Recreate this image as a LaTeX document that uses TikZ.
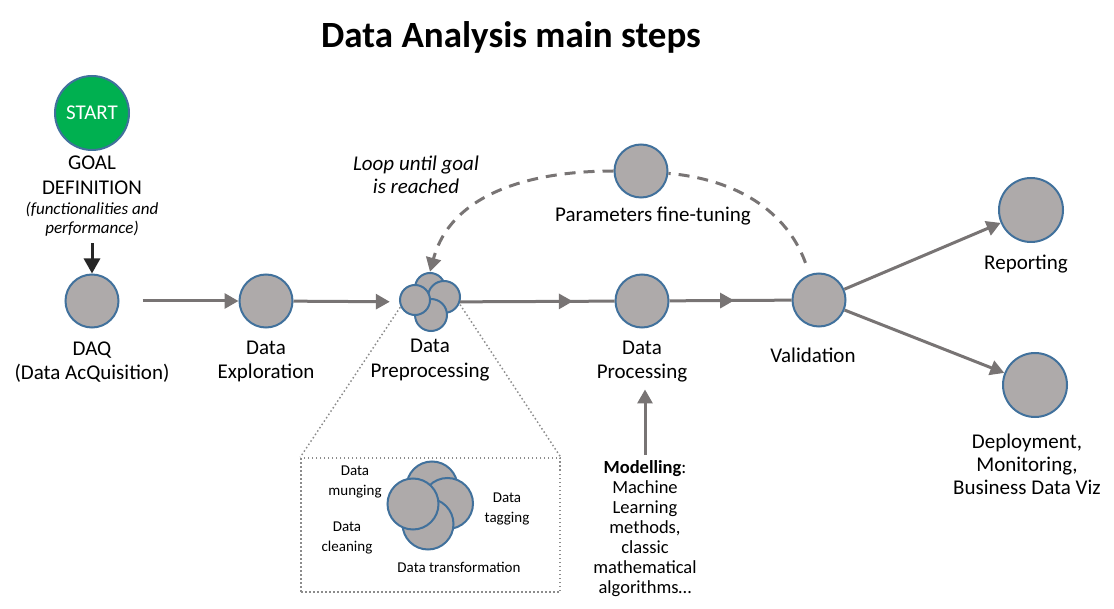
\documentclass[tikz,border=0pt]{standalone}
\usepackage{fontspec}
\setmainfont{Carlito}
\usetikzlibrary{positioning,arrows.meta,decorations.markings}

\definecolor{stepgray}{HTML}{AEAAAA}
\definecolor{stepblue}{HTML}{41719C}
\definecolor{flowgray}{HTML}{787474}
\definecolor{dotgray}{HTML}{8C8C8C}
\definecolor{startgreen}{HTML}{00B050}

\tikzset{
  stepnode/.style={circle,draw=stepblue,fill=stepgray,line width=2pt,inner sep=0pt,minimum size=#1},
  stepnode/.default=53pt,
  flow/.style={draw=flowgray,line width=3pt,-{Triangle[length=14pt,width=15pt]}},
  midflow/.style={draw=flowgray,line width=3pt,postaction={decorate},
    decoration={markings,mark=at position #1 with {\arrow{Triangle[length=14pt,width=15pt]}}}},
  loopline/.style={draw=flowgray,line width=3pt,dash pattern=on 11pt off 8pt},
  zoomline/.style={draw=dotgray,line width=1.5pt,dash pattern=on 1.5pt off 2.5pt},
  lbl/.style={align=center,inner sep=0pt,font=\fontsize{21}{24.5}\selectfont},
  note/.style={align=center,inner sep=0pt,font=\fontsize{17}{19}\selectfont\itshape},
  small/.style={align=center,inner sep=0pt,font=\fontsize{15}{20}\selectfont},
}

\begin{document}
\begin{tikzpicture}[x=1pt,y=1pt]
\useasboundingbox (0,0) rectangle (1114,-609);
\node[font=\fontsize{37}{44}\selectfont\bfseries] (title) at (511,-37) {Data Analysis main steps};

% goal definition
\node[stepnode=74pt,fill=startgreen,text=white,font=\fontsize{21}{24}\selectfont] (start) at (92,-113) {START};
\node[lbl,below=5pt of start] (goal) {GOAL\\DEFINITION};
\node[note,below=7pt of goal] (goalnote) {(functionalities and\\performance)};

% main steps
\node[stepnode] (daq) at (92,-301) {};
\node[stepnode] (expl) at (266,-301) {};
\node[circle,minimum size=60pt,inner sep=0pt] (pre) at (430,-302) {};
\node[stepnode=30pt] (pretop) at (430,-288) {};
\node[stepnode=32pt] (preright) at (444,-297) {};
\node[stepnode=32pt] (prebot) at (431,-315) {};
\node[stepnode=30pt] (preleft) at (415,-300) {};
\node[stepnode] (proc) at (642,-301) {};
\node[stepnode] (val) at (819,-300) {};
\node[stepnode] (param) at (641,-171) {};
\node[stepnode=64pt] (rep) at (1031,-210) {};
\node[stepnode=64pt] (dep) at (1035,-385) {};

\node[lbl,below=13pt of daq] (daqlbl) {DAQ\\(Data AcQuisition)};
\node[lbl,below=12pt of expl] (expllbl) {Data\\Exploration};
\node[lbl,below=7pt of pre] (prelbl) {Data\\Preprocessing};
\node[lbl,below=12pt of proc] (proclbl) {Data\\Processing};
\node[lbl,below=20pt of val,xshift=-6pt] (vallbl) {Validation};
\node[lbl,below=8pt of param,xshift=12pt] (paramlbl) {Parameters fine-tuning};
\node[lbl,below=12pt of rep,xshift=-5pt] (replbl) {Reporting};
\node[lbl,below=16pt of dep,xshift=-8pt,font=\fontsize{21}{23}\selectfont] (deplbl) {Deployment,\\Monitoring,\\Business Data Viz};
\node[lbl,font=\fontsize{21}{23}\selectfont\itshape] (looplbl) at (416,-175) {Loop until goal\\is reached};

\draw[line width=3pt,draw=black!85,-{Triangle[length=15pt,width=16pt]},shorten <=7pt] (goalnote) -- (daq);
\draw[flow,shorten <=23pt] (daq) -- (expl);
\draw[flow,shorten >=10pt] (expl) -- (pre);
\draw[midflow=0.73] (pre) -- (proc);
\draw[midflow=0.53] (proc) -- (val);
\draw[flow] (val) -- (rep);
\draw[flow] (val) -- (dep);

% loop back
\draw[loopline,shorten <=12pt] (val) to[out=110,in=-5] (param);
\draw[loopline,-{Triangle[length=14pt,width=15pt]}] (param) to[out=180,in=75] (pre.north);

% zoom on preprocessing
\node[draw=dotgray,line width=1.5pt,dash pattern=on 1.5pt off 2.5pt,minimum width=259pt,minimum height=134pt,inner sep=0pt] (zoombox) at (430.5,-525) {};
\draw[zoomline] (pre.190) -- (zoombox.north west);
\draw[zoomline] (pre.-5) -- (zoombox.north east);
\node[stepnode=51pt] (bigtop) at (432,-487) {};
\node[stepnode=51pt] (bigright) at (447.5,-503.5) {};
\node[stepnode=51pt] (bigbot) at (428,-524) {};
\node[stepnode=51pt] (bigleft) at (413,-504) {};
\node[small] (munge) at (355,-482) {Data\\munging};
\node[small] (tag) at (507,-509) {Data\\tagging};
\node[small] (clean) at (347,-538) {Data\\cleaning};
\node[small] (transf) at (459,-567) {Data transformation};

% modelling
\node[align=center,inner sep=0pt,font=\fontsize{18.5}{20}\selectfont] (model) at (645,-528.5) {\textbf{Modelling}:\\Machine\\Learning\\methods,\\classic\\mathematical\\algorithms\dots};
\draw[flow,shorten >=7pt] ([yshift=5pt]model.north) -- (model.north |- proclbl.south);
\end{tikzpicture}
\end{document}
